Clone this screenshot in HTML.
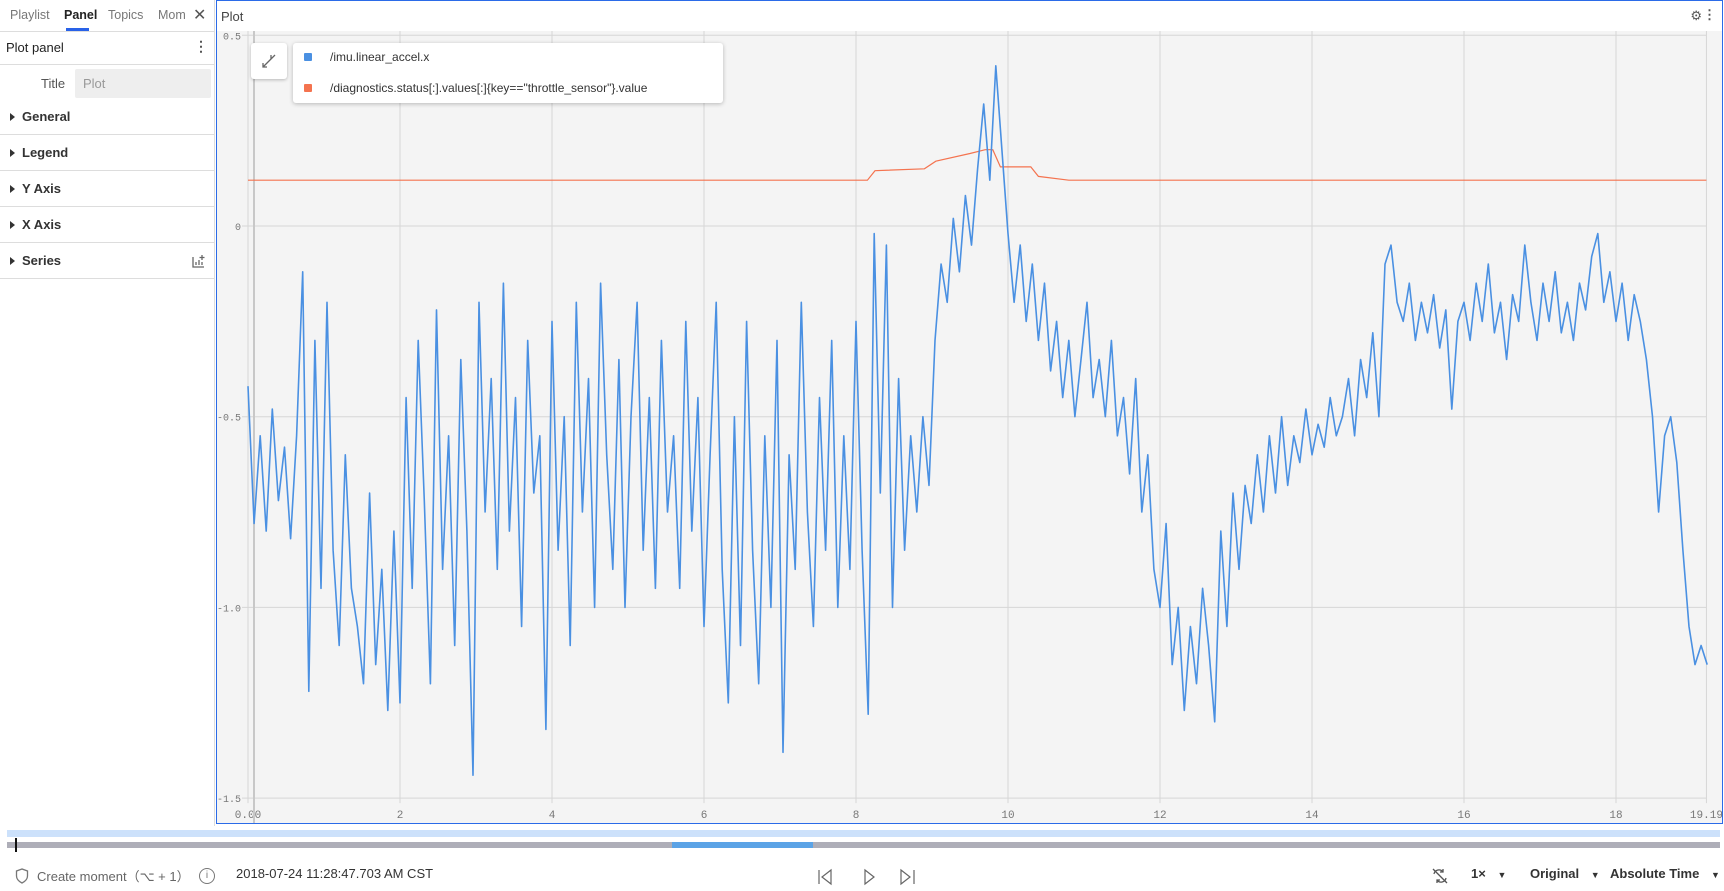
<!DOCTYPE html>
<html><head><meta charset="utf-8"><style>
*{box-sizing:border-box;margin:0;padding:0}
body{width:1724px;height:891px;overflow:hidden;background:#fff;font-family:"Liberation Sans",sans-serif;color:#222;position:relative}
.abs{position:absolute}
.side{left:0;top:0;width:215px;height:826px;border-right:1px solid #ddd}
.tab{top:8px;font-size:12.5px;color:#777}
.sec{left:0;width:214px;height:36px;border-bottom:1px solid #ddd;font-size:13px;font-weight:bold;color:#333;padding:10px 0 0 22px}
.sec:before{content:"";position:absolute;left:10px;top:14px;border-left:5px solid #333;border-top:4px solid transparent;border-bottom:4px solid transparent}
.bt{top:866px;font-size:13px;color:#333}
</style></head><body>
<div class="abs side">
  <div class="abs tab" style="left:10px">Playlist</div>
  <div class="abs tab" style="left:64px;color:#222;font-weight:bold">Panel</div>
  <div class="abs" style="left:66px;top:28px;width:23px;height:3px;background:#2962e8"></div>
  <div class="abs tab" style="left:108px">Topics</div>
  <div class="abs tab" style="left:158px">Mom</div>
  <div class="abs" style="left:193px;top:5px;font-size:16px;color:#555">✕</div>
  <div class="abs" style="left:0;top:31px;width:214px;border-top:1px solid #ddd"></div>
  <div class="abs" style="left:6px;top:40px;font-size:13px;color:#222">Plot panel</div>
  <div class="abs" style="left:194px;top:38px;font-size:14px;color:#555;font-weight:bold">⋮</div>
  <div class="abs" style="left:0;top:64px;width:214px;border-top:1px solid #ddd"></div>
  <div class="abs" style="left:41px;top:76px;font-size:13px;color:#555">Title</div>
  <div class="abs" style="left:75px;top:69px;width:136px;height:29px;background:#eee;border-radius:2px;font-size:13px;color:#999;padding:7px 0 0 8px">Plot</div>
  <div class="abs sec" style="top:99px">General</div>
  <div class="abs sec" style="top:135px">Legend</div>
  <div class="abs sec" style="top:171px">Y Axis</div>
  <div class="abs sec" style="top:207px">X Axis</div>
  <div class="abs sec" style="top:243px">Series</div>
  <svg class="abs" style="left:191px;top:253px" width="16" height="16"><path d="M2 4v10h11M5 12V9M8 12V7M11 12V9M11 2v5M8.5 4.5h5" stroke="#666" fill="none" stroke-width="1.3"/></svg>
</div>

<div class="abs" style="left:216px;top:0;width:1507px;height:824px;border:1px solid #2b6be8">
  <div class="abs" style="left:4px;top:8px;font-size:13px;color:#444">Plot</div>
  <div class="abs" style="right:20px;top:7px;font-size:13px;color:#555">⚙</div>
  <div class="abs" style="right:6px;top:6px;font-size:13px;color:#555;font-weight:bold">⋮</div>
</div>
<svg class="abs" style="left:217px;top:31px;overflow:visible" width="1505" height="792" id="chart"></svg>

<div class="abs" style="left:251px;top:43px;width:36px;height:36px;background:#fff;border-radius:3px;box-shadow:0 1px 3px rgba(0,0,0,.25)">
  <svg width="36" height="36"><path d="M12 24l6-6M12 20v4h4M24 12l-6 6M20 12v4" stroke="#666" fill="none" stroke-width="1.3"/></svg>
</div>
<div class="abs" style="left:293px;top:43px;width:430px;height:60px;background:#fff;border-radius:3px;box-shadow:0 1px 4px rgba(0,0,0,.25)">
  <div class="abs" style="left:11px;top:10px;width:8px;height:8px;background:#4a90e2;border-radius:1px"></div>
  <div class="abs" style="left:37px;top:7px;font-size:12px;color:#333">/imu.linear_accel.x</div>
  <div class="abs" style="left:11px;top:41px;width:8px;height:8px;background:#f4734f;border-radius:1px"></div>
  <div class="abs" style="left:37px;top:38px;font-size:12px;color:#333">/diagnostics.status[:].values[:]{key=="throttle_sensor"}.value</div>
</div>

<div class="abs" style="left:7px;top:830px;width:1713px;height:7px;background:#cce1fb"></div>
<div class="abs" style="left:7px;top:842px;width:1713px;height:6px;background:#aeaeb8"></div>
<div class="abs" style="left:672px;top:842px;width:141px;height:6px;background:#5ba3e6"></div>
<div class="abs" style="left:15px;top:838px;width:2px;height:14px;background:#111"></div>

<svg class="abs" style="left:15px;top:868px" width="14" height="16"><path d="M7 1L1.5 3v5c0 3.5 2.5 5.5 5.5 7 3-1.5 5.5-3.5 5.5-7V3z" fill="none" stroke="#777" stroke-width="1.3"/></svg>
<div class="abs bt" style="left:37px;color:#666">Create moment（⌥ + 1）</div>
<div class="abs" style="left:199px;top:868px;width:16px;height:16px;border:1.3px solid #777;border-radius:50%;font-size:10px;color:#777;text-align:center;line-height:14px">i</div>
<div class="abs bt" style="left:236px">2018-07-24 11:28:47.703 AM CST</div>
<svg class="abs" style="left:818px;top:868px" width="100" height="18"><path d="M1 2v14M13 2L4 9l9 7z M47 2v14l9-7z M83 2l9 7-9 7z M96 2v14" fill="none" stroke="#666" stroke-width="1.2"/></svg>
<svg class="abs" style="left:1430px;top:867px" width="20" height="18"><path d="M4 7a5 5 0 0 1 9-2M16 11a5 5 0 0 1-9 2M13 2v3h-3M7 16v-3h3M3 2l14 14" fill="none" stroke="#555" stroke-width="1.3"/></svg>
<div class="abs bt" style="left:1471px;font-weight:bold">1× <span style="font-size:9px;margin-left:8px">▼</span></div>
<div class="abs bt" style="left:1530px;font-weight:bold">Original <span style="font-size:9px;margin-left:8px">▼</span></div>
<div class="abs bt" style="left:1610px;font-weight:bold">Absolute Time <span style="font-size:9px;margin-left:8px">▼</span></div>

<script>
const imuStart = 0, imuStep = 0.08;
const imuValues = [
-0.42,-0.78,-0.55,-0.8,-0.48,-0.72,-0.58,-0.82,-0.55,-0.12,
-1.22,-0.3,-0.95,-0.2,-0.85,-1.1,-0.6,-0.95,-1.05,-1.2,
-0.7,-1.15,-0.9,-1.27,-0.8,-1.25,-0.45,-0.95,-0.3,-0.72,
-1.2,-0.22,-0.9,-0.55,-1.1,-0.35,-0.8,-1.44,-0.2,-0.75,
-0.4,-0.9,-0.15,-0.8,-0.45,-1.05,-0.3,-0.7,-0.55,-1.32,
-0.25,-0.85,-0.5,-1.1,-0.2,-0.75,-0.4,-1.0,-0.15,-0.6,
-0.9,-0.35,-1.0,-0.5,-0.2,-0.85,-0.45,-0.95,-0.3,-0.75,
-0.55,-0.95,-0.25,-0.8,-0.45,-1.05,-0.6,-0.2,-0.9,-1.25,
-0.5,-1.1,-0.25,-0.85,-1.2,-0.55,-1.0,-0.3,-1.38,-0.6,
-0.9,-0.2,-0.75,-1.05,-0.45,-0.85,-0.3,-1.0,-0.55,-0.9,
-0.25,-0.85,-1.28,-0.02,-0.7,-0.05,-1.0,-0.4,-0.85,-0.55,
-0.75,-0.5,-0.68,-0.3,-0.1,-0.2,0.02,-0.12,0.08,-0.05,
0.15,0.32,0.12,0.42,0.2,-0.02,-0.2,-0.05,-0.25,-0.1,
-0.3,-0.15,-0.38,-0.25,-0.45,-0.3,-0.5,-0.35,-0.2,-0.45,
-0.35,-0.5,-0.3,-0.55,-0.45,-0.65,-0.4,-0.75,-0.6,-0.9,
-1.0,-0.78,-1.15,-1.0,-1.27,-1.05,-1.2,-0.95,-1.1,-1.3,
-0.8,-1.05,-0.7,-0.9,-0.68,-0.78,-0.6,-0.75,-0.55,-0.7,
-0.5,-0.68,-0.55,-0.62,-0.48,-0.6,-0.52,-0.58,-0.45,-0.55,
-0.5,-0.4,-0.55,-0.35,-0.45,-0.28,-0.5,-0.1,-0.05,-0.2,
-0.25,-0.15,-0.3,-0.2,-0.28,-0.18,-0.32,-0.22,-0.48,-0.25,
-0.2,-0.3,-0.15,-0.25,-0.1,-0.28,-0.2,-0.35,-0.18,-0.25,
-0.05,-0.2,-0.3,-0.15,-0.25,-0.12,-0.28,-0.2,-0.3,-0.15,
-0.22,-0.08,-0.02,-0.2,-0.12,-0.25,-0.15,-0.3,-0.18,-0.25,
-0.35,-0.5,-0.75,-0.55,-0.5,-0.62,-0.85,-1.05,-1.15,-1.1,
-1.15];
const throttleTimes = [0, 8.15, 8.25, 8.9, 9.05, 9.5, 9.7, 9.8, 9.9, 10.3, 10.4, 10.8, 19.19];
const throttleValues = [0.12, 0.12, 0.145, 0.15, 0.17, 0.19, 0.2, 0.2, 0.155, 0.155, 0.13, 0.12, 0.12];
const xTicks = [0, 2, 4, 6, 8, 10, 12, 14, 16, 18, 19.19];
const xTickLabels = ["0.00","2","4","6","8","10","12","14","16","18","19.19"];
const yTicks = [0.5, 0, -0.5, -1.0, -1.5];
const yTickLabels = ["0.5","0","-0.5","-1.0","-1.5"];

const NS = "http://www.w3.org/2000/svg";
const svg = document.getElementById("chart");
const X0 = 248 - 217, PXU = 76;
const Y0 = 226 - 31, PYU = 381.4;
const xs = t => X0 + t * PXU;
const ys = v => Y0 - v * PYU;
function mk(tag, attrs) { const e = document.createElementNS(NS, tag); for (const k in attrs) e.setAttribute(k, attrs[k]); svg.appendChild(e); return e; }

const bg = mk("rect", {x:0, y:0, width:1505, height:792, fill:"#f4f4f4"});


const plotRight = xs(19.19);
yTicks.forEach((v, i) => {
  const g = mk("line", {x1:25, x2:plotRight, y1:ys(v), y2:ys(v), stroke:"#d6d6d6", "stroke-width":1});
  
  
  const t = mk("text", {x:24, y:ys(v) + 4, "font-family":"Liberation Mono, monospace", "font-size":10, fill:"#777", "text-anchor":"end"});
  t.textContent = yTickLabels[i];
  
  
});
xTicks.forEach((v, i) => {
  const g = mk("line", {x1:xs(v), x2:xs(v), y1:0, y2:ys(-1.5) + 5, stroke:"#d6d6d6", "stroke-width":1});
  
  
  const t = mk("text", {x:xs(v), y:ys(-1.5) + 20, "font-family":"Liberation Mono, monospace", "font-size":11, fill:"#777", "text-anchor":"middle"});
  t.textContent = xTickLabels[i];
  
  
});
const cur = mk("line", {x1:X0 + 6, x2:X0 + 6, y1:0, y2:792, stroke:"#c8c8c8", "stroke-width":2});



const tp = throttleTimes.map((t, i) => xs(t).toFixed(1) + "," + ys(throttleValues[i]).toFixed(1)).join(" ");
const ol = mk("polyline", {points:tp, fill:"none", stroke:"#f4734f", "stroke-width":1.2});



const bp = imuValues.map((v, i) => xs(imuStart + i * imuStep).toFixed(1) + "," + ys(v).toFixed(1)).join(" ");
const bl = mk("polyline", {points:bp, fill:"none", stroke:"#4a90e2", "stroke-width":1.6, "stroke-linejoin":"round"});


</script>
</body></html>
